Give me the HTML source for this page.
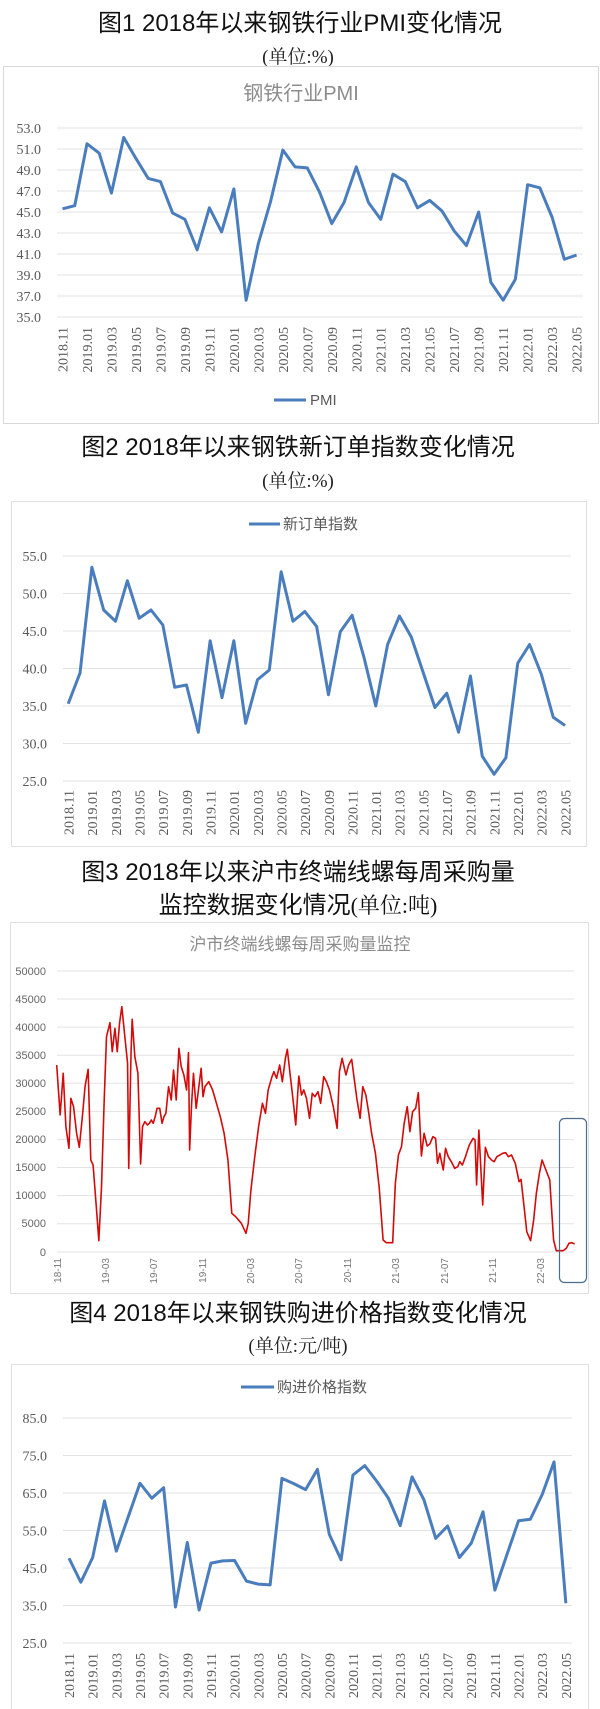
<!DOCTYPE html>
<html><head><meta charset="utf-8"><style>
html,body{margin:0;padding:0;background:#fff;}
svg{display:block;}
.t{font-family:"Liberation Sans","Noto Sans CJK SC",sans-serif;font-size:24px;fill:#111;text-anchor:middle;}
.s{font-family:"Liberation Serif","Noto Serif CJK SC",serif;font-size:19px;fill:#222;text-anchor:middle;}
.y{font-family:"Liberation Serif","Noto Serif CJK SC",serif;font-size:14px;fill:#595959;text-anchor:end;}
.x{font-family:"Liberation Serif",serif;font-size:14px;fill:#595959;text-anchor:end;}
.x3{font-family:"Liberation Sans",sans-serif;font-size:10px;fill:#777;text-anchor:end;}
.y3{font-family:"Liberation Sans",sans-serif;font-size:11px;fill:#666;text-anchor:end;}
.g line{stroke:#e3e3e3;stroke-width:1;}
.ct{font-family:"Liberation Sans","Noto Sans CJK SC",sans-serif;fill:#8c8c8c;text-anchor:middle;}
.lg{font-family:"Liberation Sans","Noto Sans CJK SC",sans-serif;font-size:15px;fill:#595959;}
.bl{fill:none;stroke:#4a7dbd;stroke-width:3;stroke-linejoin:round;}
</style></head><body>
<svg width="600" height="1709" viewBox="0 0 600 1709" xmlns="http://www.w3.org/2000/svg">
<!-- Chart 1 -->
<text class="t" x="300" y="31">图1  2018年以来钢铁行业PMI变化情况</text>
<text class="s" x="298" y="63">(单位:%)</text>
<rect x="3.5" y="66.5" width="595" height="357" fill="none" stroke="#d9d9d9"/>
<text class="ct" x="301" y="100" font-size="20">钢铁行业PMI</text>
<g class="g">
<line x1="57" x2="583" y1="128" y2="128"/><line x1="57" x2="583" y1="149" y2="149"/><line x1="57" x2="583" y1="170" y2="170"/><line x1="57" x2="583" y1="191" y2="191"/><line x1="57" x2="583" y1="212" y2="212"/><line x1="57" x2="583" y1="233" y2="233"/><line x1="57" x2="583" y1="254" y2="254"/><line x1="57" x2="583" y1="275" y2="275"/><line x1="57" x2="583" y1="296" y2="296"/><line x1="57" x2="583" y1="317" y2="317"/>
</g>
<g class="y">
<text x="41" y="133">53.0</text><text x="41" y="154">51.0</text><text x="41" y="175">49.0</text><text x="41" y="196">47.0</text><text x="41" y="217">45.0</text><text x="41" y="238">43.0</text><text x="41" y="259">41.0</text><text x="41" y="280">39.0</text><text x="41" y="301">37.0</text><text x="41" y="322">35.0</text>
</g>
<g transform="translate(62.5,684.5) scale(12.24,-10.5)">
<polyline class="bl" vector-effect="non-scaling-stroke" points="0,45.3 1,45.6 2,51.5 3,50.6 4,46.8 5,52.1 6,50.1 7,48.2 8,47.9 9,44.9 10,44.3 11,41.4 12,45.4 13,43.1 14,47.2 15,36.6 16,42.0 17,46.0 18,50.9 19,49.3 20,49.2 21,46.9 22,43.9 23,45.9 24,49.3 25,45.9 26,44.3 27,48.6 28,47.9 29,45.4 30,46.1 31,45.1 32,43.2 33,41.8 34,45.0 35,38.3 36,36.6 37,38.6 38,47.6 39,47.3 40,44.5 41,40.5 42,40.9"/>
</g>
<g class="x">
<text transform="translate(67.5,327) rotate(-90)">2018.11</text>
<text transform="translate(92,327) rotate(-90)">2019.01</text>
<text transform="translate(116.4,327) rotate(-90)">2019.03</text>
<text transform="translate(140.9,327) rotate(-90)">2019.05</text>
<text transform="translate(165.4,327) rotate(-90)">2019.07</text>
<text transform="translate(189.9,327) rotate(-90)">2019.09</text>
<text transform="translate(214.4,327) rotate(-90)">2019.11</text>
<text transform="translate(238.9,327) rotate(-90)">2020.01</text>
<text transform="translate(263.3,327) rotate(-90)">2020.03</text>
<text transform="translate(287.8,327) rotate(-90)">2020.05</text>
<text transform="translate(312.3,327) rotate(-90)">2020.07</text>
<text transform="translate(336.8,327) rotate(-90)">2020.09</text>
<text transform="translate(361.3,327) rotate(-90)">2020.11</text>
<text transform="translate(385.7,327) rotate(-90)">2021.01</text>
<text transform="translate(410.2,327) rotate(-90)">2021.03</text>
<text transform="translate(434.7,327) rotate(-90)">2021.05</text>
<text transform="translate(459.2,327) rotate(-90)">2021.07</text>
<text transform="translate(483.7,327) rotate(-90)">2021.09</text>
<text transform="translate(508.1,327) rotate(-90)">2021.11</text>
<text transform="translate(532.6,327) rotate(-90)">2022.01</text>
<text transform="translate(557.1,327) rotate(-90)">2022.03</text>
<text transform="translate(581.6,327) rotate(-90)">2022.05</text>
</g>
<line x1="274" x2="306" y1="400" y2="400" stroke="#4a7dbd" stroke-width="3"/>
<text class="lg" x="310" y="405">PMI</text>

<!-- Chart 2 -->
<text class="t" x="298" y="455">图2  2018年以来钢铁新订单指数变化情况</text>
<text class="s" x="298" y="487">(单位:%)</text>
<rect x="11.5" y="501.5" width="575" height="345" fill="none" stroke="#e0e0e0"/>
<line x1="249" x2="280" y1="524" y2="524" stroke="#4a7dbd" stroke-width="3"/>
<text class="lg" x="283" y="529">新订单指数</text>
<g class="g">
<line x1="63" x2="571" y1="556" y2="556"/><line x1="63" x2="571" y1="593.5" y2="593.5"/><line x1="63" x2="571" y1="631" y2="631"/><line x1="63" x2="571" y1="668.5" y2="668.5"/><line x1="63" x2="571" y1="706" y2="706"/><line x1="63" x2="571" y1="743.5" y2="743.5"/><line x1="63" x2="571" y1="781" y2="781"/>
</g>
<g class="y">
<text x="47" y="561">55.0</text><text x="47" y="598.5">50.0</text><text x="47" y="636">45.0</text><text x="47" y="673.5">40.0</text><text x="47" y="711">35.0</text><text x="47" y="748.5">30.0</text><text x="47" y="786">25.0</text>
</g>
<g transform="translate(68.2,968.5) scale(11.83,-7.5)">
<polyline class="bl" vector-effect="non-scaling-stroke" points="0,35.3 1,39.4 2,53.5 3,47.8 4,46.3 5,51.7 6,46.7 7,47.8 8,45.8 9,37.5 10,37.8 11,31.5 12,43.7 13,36.1 14,43.7 15,32.7 16,38.5 17,39.8 18,52.9 19,46.3 20,47.6 21,45.6 22,36.5 23,44.9 24,47.1 25,41.5 26,35.0 27,43.2 28,47.0 29,44.2 30,39.5 31,34.8 32,36.7 33,31.5 34,39.0 35,28.3 36,25.9 37,28.1 38,40.7 39,43.2 40,39.2 41,33.5 42,32.4"/>
</g>
<g class="x">
<text transform="translate(73.5,790) rotate(-90)">2018.11</text>
<text transform="translate(97.2,790) rotate(-90)">2019.01</text>
<text transform="translate(120.8,790) rotate(-90)">2019.03</text>
<text transform="translate(144.5,790) rotate(-90)">2019.05</text>
<text transform="translate(168.1,790) rotate(-90)">2019.07</text>
<text transform="translate(191.8,790) rotate(-90)">2019.09</text>
<text transform="translate(215.5,790) rotate(-90)">2019.11</text>
<text transform="translate(239.1,790) rotate(-90)">2020.01</text>
<text transform="translate(262.8,790) rotate(-90)">2020.03</text>
<text transform="translate(286.4,790) rotate(-90)">2020.05</text>
<text transform="translate(310.1,790) rotate(-90)">2020.07</text>
<text transform="translate(333.8,790) rotate(-90)">2020.09</text>
<text transform="translate(357.4,790) rotate(-90)">2020.11</text>
<text transform="translate(381.1,790) rotate(-90)">2021.01</text>
<text transform="translate(404.7,790) rotate(-90)">2021.03</text>
<text transform="translate(428.4,790) rotate(-90)">2021.05</text>
<text transform="translate(452.1,790) rotate(-90)">2021.07</text>
<text transform="translate(475.7,790) rotate(-90)">2021.09</text>
<text transform="translate(499.4,790) rotate(-90)">2021.11</text>
<text transform="translate(523,790) rotate(-90)">2022.01</text>
<text transform="translate(546.7,790) rotate(-90)">2022.03</text>
<text transform="translate(570.4,790) rotate(-90)">2022.05</text>
</g>

<!-- Chart 3 -->
<text class="t" x="298" y="880">图3  2018年以来沪市终端线螺每周采购量</text>
<text class="t" x="298" y="913"><tspan>监控数据变化情况</tspan><tspan font-family="Liberation Serif,Noto Serif CJK SC,serif" font-size="22">(单位:吨)</tspan></text>
<rect x="10.5" y="922.5" width="578" height="371" fill="none" stroke="#e0e0e0"/>
<text class="ct" x="300" y="950" font-size="17">沪市终端线螺每周采购量监控</text>
<g class="g">
<line x1="57" x2="574" y1="971" y2="971"/><line x1="57" x2="574" y1="999" y2="999"/><line x1="57" x2="574" y1="1027.1" y2="1027.1"/><line x1="57" x2="574" y1="1055.2" y2="1055.2"/><line x1="57" x2="574" y1="1083.3" y2="1083.3"/><line x1="57" x2="574" y1="1111.4" y2="1111.4"/><line x1="57" x2="574" y1="1139.4" y2="1139.4"/><line x1="57" x2="574" y1="1167.5" y2="1167.5"/><line x1="57" x2="574" y1="1195.6" y2="1195.6"/><line x1="57" x2="574" y1="1223.7" y2="1223.7"/><line x1="57" x2="574" y1="1252" y2="1252" stroke="#d0d0d0"/>
</g>
<g class="y3">
<text x="46" y="975">50000</text><text x="46" y="1003">45000</text><text x="46" y="1031">40000</text><text x="46" y="1059">35000</text><text x="46" y="1087">30000</text><text x="46" y="1115">25000</text><text x="46" y="1143">20000</text><text x="46" y="1171">15000</text><text x="46" y="1199">10000</text><text x="46" y="1227">5000</text><text x="46" y="1256">0</text>
</g>
<g transform="translate(0,860) scale(0.3831,0.33333)">
<polyline fill="none" stroke="#d40a0a" stroke-width="1.6" stroke-linejoin="round" vector-effect="non-scaling-stroke" points="148,615 157,765 165,640 172,800 180,865 185,715 192,740 200,820 207,862 215,770 222,680 230,628 237,900 243,915 252,1050 258,1142 265,980 272,720 278,530 287,488 293,575 300,505 306,575 312,490 318,440 325,520 333,610 336,925 342,580 345,478 352,590 360,640 367,912 372,800 378,785 385,795 390,790 395,780 400,790 405,770 410,745 417,745 423,790 428,770 433,760 440,680 447,720 453,630 460,720 467,565 473,620 480,645 487,690 492,578 495,870 500,735 505,640 512,745 518,690 525,625 530,710 535,680 545,665 555,690 565,730 575,770 585,820 595,900 605,1060 615,1070 630,1090 642,1120 648,1090 655,990 665,890 675,800 685,730 693,760 700,690 710,650 715,635 722,655 730,615 737,665 745,595 750,568 757,640 765,720 772,795 780,648 787,705 793,690 800,715 808,775 815,700 822,710 830,695 837,730 845,650 852,665 860,690 870,740 880,805 886,635 893,595 903,645 910,615 918,598 925,660 932,720 940,775 947,680 955,705 962,755 970,820 980,880 990,985 1000,1140 1008,1148 1025,1148 1032,970 1040,885 1048,860 1055,790 1063,740 1070,815 1077,755 1085,745 1092,698 1100,888 1107,820 1115,858 1122,852 1130,830 1137,835 1142,910 1148,880 1157,930 1163,865 1170,890 1178,905 1187,925 1195,920 1200,905 1207,915 1215,890 1225,855 1235,835 1240,840 1244,975 1250,810 1260,1035 1267,862 1275,890 1283,900 1290,905 1297,890 1305,885 1312,880 1320,878 1327,890 1335,885 1345,910 1355,965 1360,958 1368,1040 1375,1115 1385,1142 1393,1080 1400,1000 1408,940 1415,900 1425,930 1435,960 1445,1140 1452,1172 1470,1172 1478,1165 1485,1150 1492,1148 1500,1152"/>
</g>
<g class="x3">
<text transform="translate(61,1258) rotate(-90)">18-11</text>
<text transform="translate(109,1258) rotate(-90)">19-03</text>
<text transform="translate(157,1258) rotate(-90)">19-07</text>
<text transform="translate(206,1258) rotate(-90)">19-11</text>
<text transform="translate(254,1258) rotate(-90)">20-03</text>
<text transform="translate(302,1258) rotate(-90)">20-07</text>
<text transform="translate(351,1258) rotate(-90)">20-11</text>
<text transform="translate(399,1258) rotate(-90)">21-03</text>
<text transform="translate(448,1258) rotate(-90)">21-07</text>
<text transform="translate(496,1258) rotate(-90)">21-11</text>
<text transform="translate(544,1258) rotate(-90)">22-03</text>
</g>
<rect x="559.5" y="1118.5" width="27" height="164" rx="5" fill="none" stroke="#4d6d8c" stroke-width="1.2"/>

<!-- Chart 4 -->
<text class="t" x="298" y="1321">图4  2018年以来钢铁购进价格指数变化情况</text>
<text class="s" x="298" y="1352">(单位:元/吨)</text>
<rect x="11.5" y="1364.5" width="577" height="350" fill="none" stroke="#e0e0e0"/>
<line x1="241" x2="274" y1="1387" y2="1387" stroke="#4a7dbd" stroke-width="3"/>
<text class="lg" x="277" y="1392">购进价格指数</text>
<g class="g">
<line x1="63" x2="572" y1="1418" y2="1418"/><line x1="63" x2="572" y1="1455.5" y2="1455.5"/><line x1="63" x2="572" y1="1493" y2="1493"/><line x1="63" x2="572" y1="1530.5" y2="1530.5"/><line x1="63" x2="572" y1="1568" y2="1568"/><line x1="63" x2="572" y1="1605.5" y2="1605.5"/><line x1="63" x2="572" y1="1643" y2="1643"/>
</g>
<g class="y">
<text x="47" y="1423">85.0</text><text x="47" y="1460.5">75.0</text><text x="47" y="1498">65.0</text><text x="47" y="1535.5">55.0</text><text x="47" y="1573">45.0</text><text x="47" y="1610.5">35.0</text><text x="47" y="1648">25.0</text>
</g>
<g transform="translate(69,1736.75) scale(11.83,-3.75)">
<polyline class="bl" vector-effect="non-scaling-stroke" points="0,47.6 1,41.2 2,47.8 3,62.9 4,49.5 5,58.6 6,67.6 7,63.6 8,66.4 9,34.6 10,51.8 11,33.8 12,46.3 13,46.9 14,47.0 15,41.5 16,40.7 17,40.5 18,68.9 19,67.5 20,65.9 21,71.3 22,54.0 23,47.2 24,69.8 25,72.3 26,68.2 27,63.6 28,56.3 29,69.3 30,63.2 31,52.9 32,56.2 33,47.8 34,51.6 35,60.0 36,39.1 37,48.4 38,57.6 39,58.0 40,64.6 41,73.3 42,35.6"/>
</g>
<g class="x">
<text transform="translate(74,1653) rotate(-90)">2018.11</text>
<text transform="translate(97.7,1653) rotate(-90)">2019.01</text>
<text transform="translate(121.3,1653) rotate(-90)">2019.03</text>
<text transform="translate(145,1653) rotate(-90)">2019.05</text>
<text transform="translate(168.6,1653) rotate(-90)">2019.07</text>
<text transform="translate(192.3,1653) rotate(-90)">2019.09</text>
<text transform="translate(216,1653) rotate(-90)">2019.11</text>
<text transform="translate(239.6,1653) rotate(-90)">2020.01</text>
<text transform="translate(263.3,1653) rotate(-90)">2020.03</text>
<text transform="translate(286.9,1653) rotate(-90)">2020.05</text>
<text transform="translate(310.6,1653) rotate(-90)">2020.07</text>
<text transform="translate(334.3,1653) rotate(-90)">2020.09</text>
<text transform="translate(357.9,1653) rotate(-90)">2020.11</text>
<text transform="translate(381.6,1653) rotate(-90)">2021.01</text>
<text transform="translate(405.2,1653) rotate(-90)">2021.03</text>
<text transform="translate(428.9,1653) rotate(-90)">2021.05</text>
<text transform="translate(452.6,1653) rotate(-90)">2021.07</text>
<text transform="translate(476.2,1653) rotate(-90)">2021.09</text>
<text transform="translate(499.9,1653) rotate(-90)">2021.11</text>
<text transform="translate(523.5,1653) rotate(-90)">2022.01</text>
<text transform="translate(547.2,1653) rotate(-90)">2022.03</text>
<text transform="translate(570.9,1653) rotate(-90)">2022.05</text>
</g>
</svg>
</body></html>
